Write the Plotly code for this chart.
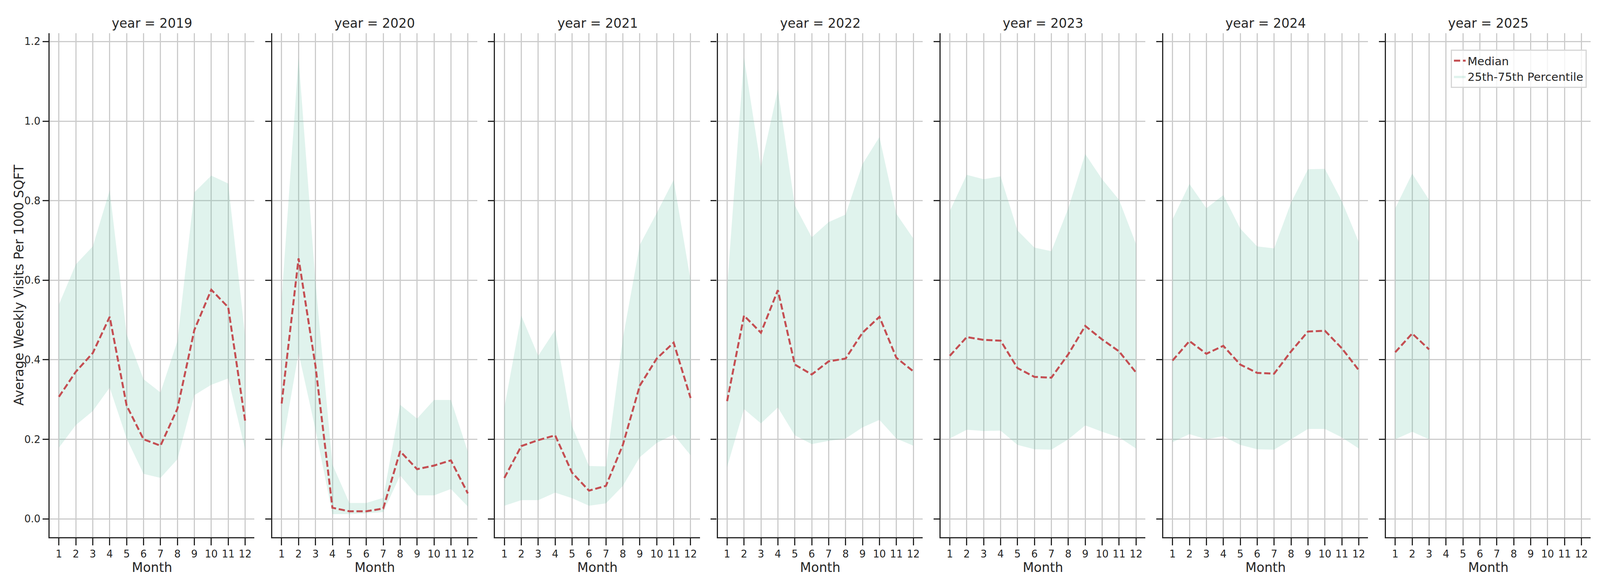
import plotly.graph_objects as go

months = list(range(1, 13))
years = [2019, 2020, 2021, 2022, 2023, 2024, 2025]

median_2019 = [0.307, 0.370, 0.417, 0.508, 0.285, 0.200, 0.184, 0.277, 0.475, 0.576, 0.532, 0.247]
q75_2019 = [0.539, 0.640, 0.685, 0.826, 0.464, 0.351, 0.318, 0.447, 0.821, 0.863, 0.843, 0.459]
q25_2019 = [0.179, 0.236, 0.271, 0.330, 0.202, 0.113, 0.103, 0.150, 0.311, 0.337, 0.353, 0.174]

median_2020 = [0.290, 0.655, 0.384, 0.028, 0.019, 0.019, 0.026, 0.170, 0.125, 0.134, 0.147, 0.064]
q75_2020 = [0.553, 1.160, 0.595, 0.137, 0.040, 0.040, 0.053, 0.287, 0.252, 0.299, 0.299, 0.169]
q25_2020 = [0.172, 0.417, 0.224, 0.012, 0.012, 0.014, 0.017, 0.109, 0.059, 0.059, 0.075, 0.031]

median_2021 = [0.103, 0.183, 0.198, 0.210, 0.116, 0.071, 0.083, 0.186, 0.335, 0.403, 0.443, 0.304]
q75_2021 = [0.280, 0.511, 0.410, 0.475, 0.233, 0.133, 0.132, 0.454, 0.689, 0.769, 0.852, 0.600]
q25_2021 = [0.033, 0.047, 0.047, 0.066, 0.052, 0.033, 0.039, 0.083, 0.155, 0.191, 0.212, 0.160]

median_2022 = [0.296, 0.511, 0.468, 0.575, 0.388, 0.363, 0.396, 0.403, 0.468, 0.508, 0.405, 0.371]
q75_2022 = [0.580, 1.160, 0.885, 1.080, 0.788, 0.708, 0.746, 0.765, 0.892, 0.960, 0.767, 0.705]
q25_2022 = [0.130, 0.276, 0.240, 0.280, 0.210, 0.188, 0.196, 0.202, 0.230, 0.249, 0.202, 0.184]

median_2023 = [0.410, 0.457, 0.450, 0.448, 0.379, 0.357, 0.355, 0.414, 0.485, 0.451, 0.421, 0.368]
q75_2023 = [0.774, 0.865, 0.854, 0.861, 0.725, 0.682, 0.673, 0.781, 0.917, 0.854, 0.802, 0.691]
q25_2023 = [0.202, 0.224, 0.221, 0.222, 0.186, 0.175, 0.174, 0.200, 0.235, 0.219, 0.205, 0.177]

median_2024 = [0.398, 0.447, 0.415, 0.435, 0.388, 0.367, 0.365, 0.421, 0.471, 0.473, 0.429, 0.374]
q75_2024 = [0.753, 0.842, 0.781, 0.814, 0.730, 0.685, 0.680, 0.795, 0.879, 0.880, 0.799, 0.696]
q25_2024 = [0.193, 0.213, 0.200, 0.208, 0.186, 0.175, 0.174, 0.200, 0.226, 0.226, 0.205, 0.177]

median_2025 = [0.419, 0.466, 0.426]
q75_2025 = [0.781, 0.868, 0.802]
q25_2025 = [0.200, 0.219, 0.200]

medians = [median_2019, median_2020, median_2021, median_2022, median_2023, median_2024, median_2025]
q75s = [q75_2019, q75_2020, q75_2021, q75_2022, q75_2023, q75_2024, q75_2025]
q25s = [q25_2019, q25_2020, q25_2021, q25_2022, q25_2023, q25_2024, q25_2025]

y_ticks = [0.0, 0.2, 0.4, 0.6, 0.8, 1.0, 1.2]
y_ticktext = ["0.0", "0.2", "0.4", "0.6", "0.8", "1.0", "1.2"]

# The browser viewport is capped at 4096 px wide; keep the reference's
# horizontal proportions (measured on a 5250 px wide canvas) scaled to it.
REF_W = 5250.0
W, H = 4096, 1500
sx = W / REF_W
ML, MR, MT, MB = 153 * sx, 40 * sx, 77, 133
plot_w = W - ML - MR
plot_h = H - MT - MB
panel_w = 672.0 * sx
step = 730.7 * sx

DARK = "#262626"
GRID = "#cccccc"
RED = "#C44E52"
FILL = "rgba(102,194,165,0.2)"
FONT = "DejaVu Sans"

fig = go.Figure()
annotations = []

for i, yr in enumerate(years):
    ax = "" if i == 0 else str(i + 1)
    xa = "x" + ax
    ya = "y" + ax
    n = len(medians[i])
    mx = months[:n]
    poly_x = mx + mx[::-1]
    poly_y = q75s[i] + q25s[i][::-1]
    fig.add_trace(go.Scatter(
        x=poly_x, y=poly_y, xaxis=xa, yaxis=ya, mode="lines",
        fill="toself", fillcolor=FILL, line=dict(width=0, color=FILL),
        name="25th-75th Percentile", legendgroup="iqr",
        showlegend=(i == len(years) - 1), legendrank=2, hoverinfo="skip",
    ))
    fig.add_trace(go.Scatter(
        x=mx, y=medians[i], xaxis=xa, yaxis=ya, mode="lines",
        line=dict(color=RED, width=5, dash="16px,7px"),
        name="Median", legendgroup="med",
        showlegend=(i == len(years) - 1), legendrank=1,
    ))

    x0 = i * step / plot_w
    x1 = (i * step + panel_w) / plot_w
    common = dict(
        showline=True, linecolor=DARK, linewidth=3.3, mirror=False,
        ticks="outside", tickwidth=3, tickcolor=DARK,
        showgrid=True, gridcolor=GRID, gridwidth=2.5, zeroline=False,
        tickfont=dict(family=FONT, size=26, color=DARK),
    )
    fig.layout["xaxis" + ax] = dict(
        domain=[x0, x1], range=[0.45, 12.55], tickmode="array",
        tickvals=months, ticktext=[str(m) for m in months],
        anchor=ya, ticklen=18,
        title=dict(text="Month", font=dict(family=FONT, size=33, color=DARK), standoff=6),
        **common,
    )
    fig.layout["yaxis" + ax] = dict(
        domain=[0, 1], range=[-0.046, 1.221], tickmode="array",
        tickvals=y_ticks, ticktext=y_ticktext, anchor=xa, ticklen=15,
        showticklabels=(i == 0),
        **common,
    )
    annotations.append(dict(
        text=f"year = {yr}", xref="paper", yref="paper",
        x=(x0 + x1) / 2, y=1, xanchor="center", yanchor="bottom", yshift=4,
        showarrow=False, font=dict(family=FONT, size=33, color=DARK),
    ))

annotations.append(dict(
    text="Average Weekly Visits Per 1000 SQFT", xref="paper", yref="paper",
    x=(52 * sx - ML) / plot_w, y=0.5, xanchor="center", yanchor="middle",
    textangle=-90, showarrow=False, font=dict(family=FONT, size=33, color=DARK),
))

fig.update_layout(
    width=W, height=H,
    margin=dict(l=ML, r=MR, t=MT, b=MB),
    paper_bgcolor="white", plot_bgcolor="white",
    annotations=annotations,
    showlegend=True,
    legend=dict(
        x=(4750 * sx - ML) / plot_w, y=1 - (119 - MT) / plot_h,
        xanchor="left", yanchor="top",
        bgcolor="rgba(255,255,255,0.8)", bordercolor="#d6d6d6", borderwidth=3,
        font=dict(family=FONT, size=29, color=DARK),
        itemwidth=30, tracegroupgap=0,
    ),
    font=dict(family=FONT, color=DARK),
)

fig.write_html("out.html")
